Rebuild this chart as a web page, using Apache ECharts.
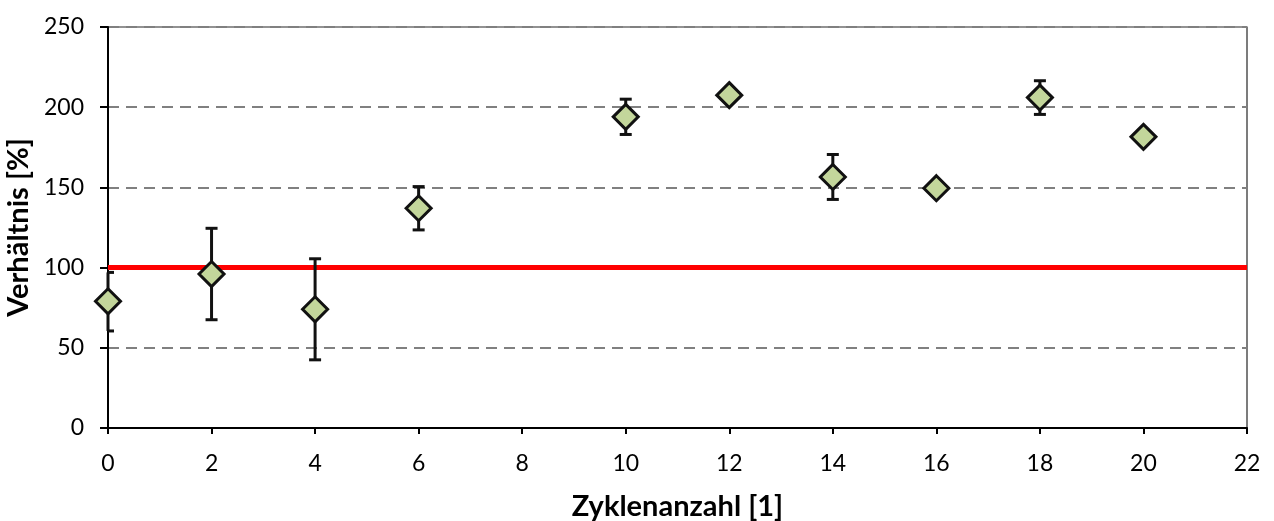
<!DOCTYPE html>
<html>
<head>
<meta charset="utf-8">
<script src="https://cdn.jsdelivr.net/npm/echarts@6/dist/echarts.min.js"></script>
<style>html,body{margin:0;padding:0;background:#fff;}#c{width:1274px;height:521px;}</style>
</head>
<body>
<div id="c"></div>
<script>
var cycles = [0, 2, 4, 6, 10, 12, 14, 16, 18, 20];
var ratio = [79, 96, 74, 137, 194, 207.5, 156.5, 149.5, 206, 181.5];
var errLow = [18.5, 28.5, 31.5, 13.5, 11, 0, 14, 0, 10.5, 0];
var errHigh = [18, 28.5, 31.5, 13.5, 11, 0, 14, 0, 10.5, 0];
var refLine = [[0, 100], [22, 100]];

var font = 'Lato, "Open Sans", sans-serif';
var chart = echarts.init(document.getElementById('c'));
var errData = cycles.map(function (c, i) { return [c, ratio[i] - errLow[i], ratio[i] + errHigh[i]]; });
var scatterData = cycles.map(function (c, i) { return [c, ratio[i]]; });

chart.setOption({
  animation: false,
  grid: { left: 108, right: 27, top: 27, bottom: 93, containLabel: false, outerBoundsMode: 'none', show: true, borderColor: '#262626', borderWidth: 1.2, backgroundColor: 'transparent' },
  xAxis: {
    type: 'value', min: 0, max: 22, interval: 2,
    name: 'Zyklenanzahl [1]', nameLocation: 'middle', nameGap: 64,
    nameTextStyle: { fontFamily: font, fontSize: 29, fontWeight: 'bold', color: '#000' },
    axisLine: { show: true, onZero: false, lineStyle: { color: '#000', width: 2 } },
    axisTick: { show: true, length: 6, lineStyle: { color: '#000', width: 2 } },
    axisLabel: { fontFamily: font, fontSize: 23, color: '#000', margin: 24 },
    splitLine: { show: false }
  },
  yAxis: {
    type: 'value', min: 0, max: 250, interval: 50,
    name: 'Verhältnis [%]', nameLocation: 'middle', nameGap: 70,
    nameTextStyle: { fontFamily: font, fontSize: 29, fontWeight: 'bold', color: '#000' },
    axisLine: { show: true, lineStyle: { color: '#000', width: 2 } },
    axisTick: { show: true, length: 8, lineStyle: { color: '#000', width: 2 } },
    axisLabel: { fontFamily: font, fontSize: 23, color: '#000', margin: 24 },
    splitLine: { show: true, lineStyle: { color: '#808080', width: 1.8, type: [11, 7] } }
  },
  series: [
    {
      type: 'line', data: refLine, symbol: 'none', z: 2,
      lineStyle: { color: '#ff0000', width: 5 }
    },
    {
      type: 'custom', z: 3,
      data: errData,
      renderItem: function (params, api) {
        if (api.value(2) - api.value(1) <= 0) return null;
        var lo = api.coord([api.value(0), api.value(1)]);
        var hi = api.coord([api.value(0), api.value(2)]);
        var cs = params.coordSys;
        var hw = 6;
        var x0 = Math.max(lo[0] - hw, cs.x);
        var x1 = Math.min(lo[0] + hw, cs.x + cs.width);
        var st = { stroke: '#111', lineWidth: 3 };
        return {
          type: 'group',
          children: [
            { type: 'line', shape: { x1: lo[0], y1: lo[1], x2: hi[0], y2: hi[1] }, style: st },
            { type: 'line', shape: { x1: x0, y1: lo[1], x2: x1, y2: lo[1] }, style: st },
            { type: 'line', shape: { x1: x0, y1: hi[1], x2: x1, y2: hi[1] }, style: st }
          ]
        };
      }
    },
    {
      type: 'scatter', z: 4, data: scatterData,
      symbol: 'diamond', symbolSize: [25, 25],
      itemStyle: { color: '#c3d69b', borderColor: '#111', borderWidth: 3, opacity: 1 }
    }
  ]
});
</script>
</body>
</html>
